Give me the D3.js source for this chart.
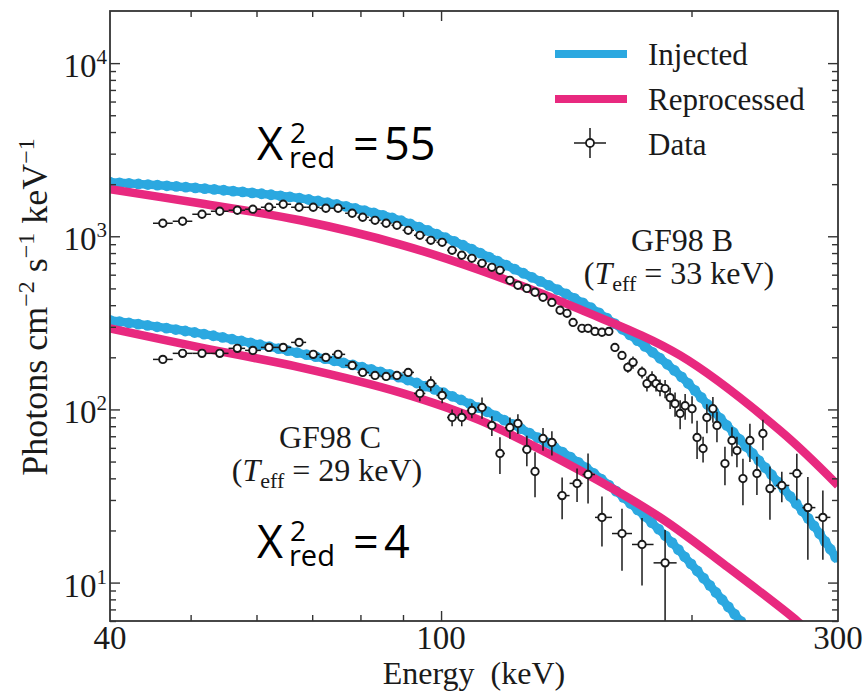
<!DOCTYPE html>
<html>
<head>
<meta charset="utf-8">
<script src="https://cdn.jsdelivr.net/npm/d3@7"></script>
<style>
  body { margin: 0; background: #fff; }
  svg { display: block; }
  .serif { font-family: "Liberation Serif", "Times New Roman", serif; fill: #1a1a1a; }
  .sans { font-family: "Open Sans", "Noto Sans", sans-serif; fill: #000; }
</style>
</head>
<body>
<svg id="chart" width="863" height="692"></svg>
<script>
// ---- GF98 B: binned spectrum (keV, photons cm^-2 s^-1 keV^-1, fractional 1-sigma error)
const energyB = [46.3, 48.9, 51.6, 54.2, 56.9, 59.4, 62.1, 64.6, 67.5, 70.2,
  72.7, 75.2, 78.2, 80.5, 83.3, 85.9, 88.5, 91.3, 94.3, 97.2,
  100.3, 103.1, 105.9, 108.9, 112.0, 115.1, 117.7, 121.0, 123.7, 126.8,
  129.7, 132.6, 135.9, 139.0, 141.7, 144.1, 147.7, 150.2, 153.1, 156.1,
  159.1, 161.8, 165.0, 167.7, 170.1, 174.4, 176.8, 179.3, 181.3, 183.3,
  185.9, 188.5, 191.1, 193.8, 196.5, 200.3, 203.1, 206.5, 208.7, 212.2,
  214.6, 219.4, 223.7, 226.8, 230.6, 235.1, 239.7, 243.7, 248.5, 256.8,
  267.7, 276.0, 287.7];
const fluxB = [1189, 1221, 1340, 1395, 1414, 1433, 1471, 1531, 1471, 1471,
  1452, 1452, 1358, 1288, 1237, 1189, 1157, 1083, 1013, 948,
  923, 830, 777, 746, 698, 662, 636, 557, 521, 500,
  475, 444, 415, 374, 359, 318, 294, 294, 282, 279,
  282, 228, 205, 175, 187, 164, 141, 151, 141, 134,
  132, 117, 108, 94.8, 105, 101, 68.9, 59.5, 89.9, 101,
  80.8, 48.7, 66.2, 57.9, 39.9, 66.2, 42.7, 72.6, 34.9, 36.4,
  42.7, 27.1, 23.8];
const fracErrB = [0.02, 0.02, 0.02, 0.02, 0.02, 0.02, 0.02, 0.02, 0.02, 0.02,
  0.02, 0.02, 0.02, 0.02, 0.02, 0.02, 0.02, 0.02, 0.02, 0.02,
  0.02, 0.02, 0.02, 0.02, 0.02, 0.03, 0.03, 0.03, 0.03, 0.03,
  0.03, 0.03, 0.03, 0.04, 0.04, 0.04, 0.04, 0.04, 0.04, 0.04,
  0.05, 0.06, 0.06, 0.07, 0.08, 0.08, 0.1, 0.1, 0.1, 0.11,
  0.12, 0.14, 0.16, 0.19, 0.17, 0.18, 0.25, 0.17, 0.19, 0.17,
  0.2, 0.25, 0.19, 0.2, 0.3, 0.25, 0.25, 0.2, 0.34, 0.2,
  0.3, 0.5, 0.43];

// ---- GF98 C: binned spectrum
const energyC = [46.3, 48.9, 51.6, 54.2, 56.9, 59.4, 62.1, 64.6, 67.5, 70.2,
  72.7, 75.2, 78.2, 80.5, 83.3, 85.9, 88.5, 91.3, 94.3, 97.2,
  100.3, 103.1, 105.9, 108.9, 112.0, 115.1, 117.7, 121.0, 123.7, 126.8,
  129.7, 132.6, 135.9, 139.8, 145.7, 150.2, 156.1, 165.0, 174.4, 185.9];
const fluxC = [194.5, 210.8, 210.8, 210.8, 225.3, 219.3, 228.2, 228.2, 243.9, 208.0,
  199.8, 208.0, 179.6, 163.6, 157.2, 155.1, 157.2, 163.6, 123.7, 141.3,
  120.5, 89.9, 89.9, 98.7, 102.7, 80.8, 55.7, 78.7, 83.0, 58.7,
  43.8, 68.0, 64.5, 31.8, 37.4, 42.1, 23.8, 19.2, 16.6, 13.0];
const fracErrC = [0.03, 0.03, 0.03, 0.03, 0.03, 0.03, 0.03, 0.04, 0.04, 0.04,
  0.04, 0.04, 0.05, 0.05, 0.05, 0.05, 0.06, 0.06, 0.1, 0.1,
  0.1, 0.11, 0.11, 0.1, 0.14, 0.13, 0.24, 0.14, 0.13, 0.2,
  0.29, 0.15, 0.16, 0.27, 0.22, 0.32, 0.32, 0.39, 0.42, 0.55];

// ---- Model spectra
const injBEnergy = [40, 51.3, 67.7, 77.7, 89.2, 101.6, 122.0, 146.9, 160.9, 193.8, 212.2, 233.2, 255.5, 280.0, 300];
const injBFlux   = [2052, 1895, 1658, 1471, 1237, 974, 653, 421, 318, 157, 98.7, 60.3, 36.9, 21.6, 13.4];
const repBEnergy = [40, 51.3, 67.7, 89.2, 111.4, 146.9, 193.8, 255.5, 300];
const repBFlux   = [1869, 1551, 1237, 899, 636, 378, 205, 75.6, 36.4];
const injCEnergy = [40, 51.3, 67.7, 89.2, 111.4, 146.9, 183.3, 199.2, 229.4, 241.7];
const injCFlux   = [327, 275, 211, 153, 101.3, 48.7, 20.0, 13.0, 5.95, 4.44];
const repCEnergy = [40, 51.3, 67.7, 89.2, 111.4, 146.9, 183.3, 220.0, 268.5, 281.5];
const repCFlux   = [294, 228, 175, 125.4, 86.4, 44.4, 23.8, 12.5, 5.95, 4.81];

// ---- Axis ticks
const xTickLabels = [40, 100, 300];
const xMajorTicks = [100];
const xMinorTicks = [50, 60, 70, 80, 90, 200];
const yMajorTicks = [10, 100, 1000, 10000];
const yExponents  = ["1", "2", "3", "4"];
const yMinorTicks = [6, 7, 8, 9, 20, 30, 40, 50, 60, 70, 80, 90,
  200, 300, 400, 500, 600, 700, 800, 900, 2000, 3000, 4000, 5000, 6000, 7000, 8000, 9000];

const legendLabels = ["Injected", "Reprocessed", "Data"];

const BLUE = "#2ba8e0", PINK = "#e8297f", INK = "#1a1a1a", FRAME = "#333";

const svg = d3.select("#chart");
const L = 110, R = 838, T = 11, B = 621;
const x = d3.scaleLog().domain([40, 300]).range([L, R]);
const y = d3.scaleLog().domain([6, 20000]).range([B, T]);

svg.append("defs").append("clipPath").attr("id", "plotClip")
  .append("rect").attr("x", L).attr("y", T).attr("width", R - L).attr("height", B - T);

const plot = svg.append("g").attr("clip-path", "url(#plotClip)");
const line = d3.line().x(d => x(d[0])).y(d => y(d[1])).curve(d3.curveCatmullRom.alpha(0.5));
const zip = (a, b) => a.map((v, i) => [v, b[i]]);

// injected spectra: thick band with a beaded edge
function injected(es, fs) {
  const p = plot.append("path").datum(zip(es, fs)).attr("d", line)
    .attr("fill", "none").attr("stroke", BLUE).attr("stroke-width", 8.5)
    .attr("stroke-linejoin", "round");
  const node = p.node(), len = node.getTotalLength();
  const beads = d3.range(0, len, 9.5).map(l => node.getPointAtLength(l));
  plot.append("g").selectAll("circle").data(beads).join("circle")
    .attr("cx", d => d.x).attr("cy", d => d.y).attr("r", 5.4).attr("fill", BLUE);
}
function reprocessed(es, fs) {
  plot.append("path").datum(zip(es, fs)).attr("d", line)
    .attr("fill", "none").attr("stroke", PINK).attr("stroke-width", 8.5)
    .attr("stroke-linejoin", "round");
}
injected(injBEnergy, injBFlux);
injected(injCEnergy, injCFlux);
reprocessed(repBEnergy, repBFlux);
reprocessed(repCEnergy, repCFlux);

// binned data with error bars; bin edges sit halfway (in log E) between neighbours
function dataSet(es, fs, fe) {
  const pts = es.map((e, i) => {
    const lo = i > 0 ? Math.sqrt(es[i - 1] * e) : e * e / Math.sqrt(e * es[i + 1]);
    const hi = i < es.length - 1 ? Math.sqrt(es[i + 1] * e) : e * e / Math.sqrt(e * es[i - 1]);
    return { e, f: fs[i], lo, hi, err: fs[i] * fe[i] };
  });
  const g = plot.append("g").attr("stroke", INK).attr("stroke-width", 1.5);
  g.selectAll("line.h").data(pts).join("line").attr("class", "h")
    .attr("x1", d => x(d.lo)).attr("x2", d => x(d.hi))
    .attr("y1", d => y(d.f)).attr("y2", d => y(d.f));
  g.selectAll("line.v").data(pts).join("line").attr("class", "v")
    .attr("x1", d => x(d.e)).attr("x2", d => x(d.e))
    .attr("y1", d => y(d.f + d.err)).attr("y2", d => y(Math.max(d.f - d.err, 1)));
  g.selectAll("circle").data(pts).join("circle")
    .attr("cx", d => x(d.e)).attr("cy", d => y(d.f)).attr("r", 3.7)
    .attr("fill", "#fff").attr("stroke-width", 1.9);
}
dataSet(energyB, fluxB, fracErrB);
dataSet(energyC, fluxC, fracErrC);

// ---- frame and ticks (all pointing inward)
function ticks(axisFn, scale, vals, size, tr) {
  svg.append("g").attr("transform", tr)
    .call(axisFn(scale).tickValues(vals).tickSize(-size).tickFormat(""))
    .call(g => g.select(".domain").remove())
    .selectAll("line").attr("stroke", FRAME).attr("stroke-width", 1.4);
}
ticks(d3.axisLeft, y, yMajorTicks, 10, `translate(${L},0)`);
ticks(d3.axisLeft, y, yMinorTicks, 6, `translate(${L},0)`);
ticks(d3.axisRight, y, yMajorTicks, 10, `translate(${R},0)`);
ticks(d3.axisRight, y, yMinorTicks, 6, `translate(${R},0)`);
ticks(d3.axisBottom, x, xMajorTicks, 10, `translate(0,${B})`);
ticks(d3.axisBottom, x, xMinorTicks, 6, `translate(0,${B})`);
ticks(d3.axisTop, x, xMajorTicks, 10, `translate(0,${T})`);
ticks(d3.axisTop, x, xMinorTicks, 6, `translate(0,${T})`);
svg.append("rect").attr("x", L).attr("y", T).attr("width", R - L).attr("height", B - T)
  .attr("fill", "none").attr("stroke", FRAME).attr("stroke-width", 1.8);

// tick labels
yMajorTicks.forEach((v, i) => {
  const t = svg.append("text").attr("class", "serif").attr("text-anchor", "end")
    .attr("x", L - 3).attr("y", y(v) + 14).attr("font-size", 33);
  t.append("tspan").text("10");
  t.append("tspan").attr("dy", -13).attr("font-size", 21).text(yExponents[i]);
});
svg.append("g").selectAll("text").data(xTickLabels).join("text")
  .attr("class", "serif").attr("text-anchor", "middle").attr("font-size", 33)
  .attr("x", d => x(d)).attr("y", 649).text(d => d);

// axis titles
svg.append("text").attr("class", "serif").attr("text-anchor", "middle").attr("font-size", 32)
  .attr("x", 474).attr("y", 684).text("Energy\u00a0\u00a0(keV)");
const yt = svg.append("text").attr("class", "serif").attr("text-anchor", "middle").attr("font-size", 36)
  .attr("transform", "translate(47,307) rotate(-90)");
yt.append("tspan").text("Photons cm");
yt.append("tspan").attr("dy", -13).attr("font-size", 24).text("\u22122");
yt.append("tspan").attr("dy", 13).text(" s");
yt.append("tspan").attr("dy", -13).attr("font-size", 24).text("\u22121");
yt.append("tspan").attr("dy", 13).text(" keV");
yt.append("tspan").attr("dy", -13).attr("font-size", 24).text("\u22121");

// ---- burst annotations
function burstLabel(name, temp, cx, by) {
  svg.append("text").attr("class", "serif").attr("text-anchor", "middle").attr("font-size", 32)
    .attr("x", cx).attr("y", by).text(name);
  const t = svg.append("text").attr("class", "serif").attr("text-anchor", "middle").attr("font-size", 32)
    .attr("x", cx - 3).attr("y", by + 33);
  t.append("tspan").text("(");
  t.append("tspan").attr("font-style", "italic").text("T");
  t.append("tspan").attr("dy", 7).attr("font-size", 22).text("eff");
  t.append("tspan").attr("dy", -7).text(` = ${temp} keV)`);
}
burstLabel("GF98 B", 33, 682, 251);
burstLabel("GF98 C", 29, 330, 448);

// reduced chi-square annotations
function chiLabel(val, by) {
  const g = svg.append("g").attr("class", "sans");
  g.append("text").attr("x", 257).attr("y", by).attr("font-size", 45).text("X");
  g.append("text").attr("x", 290).attr("y", by - 17).attr("font-size", 28).text("2");
  g.append("text").attr("x", 289).attr("y", by + 8).attr("font-size", 29).text("red");
  g.append("text").attr("x", 353).attr("y", by).attr("font-size", 45).text("=");
  g.append("text").attr("x", 384).attr("y", by).attr("font-size", 45).text(val);
}
chiLabel("55", 160);
chiLabel("4", 558);

// ---- legend
const lg = svg.append("g");
lg.append("line").attr("x1", 555).attr("x2", 627).attr("y1", 54).attr("y2", 54)
  .attr("stroke", BLUE).attr("stroke-width", 8);
lg.append("line").attr("x1", 555).attr("x2", 627).attr("y1", 99).attr("y2", 99)
  .attr("stroke", PINK).attr("stroke-width", 8);
lg.append("line").attr("x1", 574).attr("x2", 606).attr("y1", 143).attr("y2", 143)
  .attr("stroke", INK).attr("stroke-width", 1.5);
lg.append("line").attr("x1", 590).attr("x2", 590).attr("y1", 128).attr("y2", 158)
  .attr("stroke", INK).attr("stroke-width", 1.5);
lg.append("circle").attr("cx", 590).attr("cy", 143).attr("r", 4)
  .attr("fill", "#fff").attr("stroke", INK).attr("stroke-width", 1.8);
lg.selectAll("text").data(legendLabels).join("text").attr("class", "serif")
  .attr("font-size", 31).attr("x", 648).attr("y", (d, i) => 65 + i * 45).text(d => d);
</script>
</body>
</html>
